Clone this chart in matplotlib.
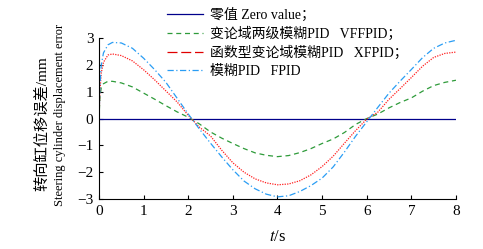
import numpy as np
import matplotlib
matplotlib.use("Agg")
import matplotlib.pyplot as plt

plt.rcParams['font.family'] = ['Liberation Serif', 'Noto Sans CJK SC']
plt.rcParams['mathtext.fontset'] = 'stix'
plt.rcParams['axes.unicode_minus'] = True

# time axis (s)
t = [0, 0.02, 0.05, 0.1, 0.2, 0.3, 0.5, 0.75, 1.0, 1.25, 1.5, 1.75, 2.0,
     2.25, 2.5, 2.75, 3.0, 3.25, 3.5, 3.75, 4.0, 4.25, 4.5, 4.75, 5.0,
     5.25, 5.5, 5.75, 6.0, 6.25, 6.5, 6.75, 7.0, 7.25, 7.5, 7.75, 8.0]

zero = [0] * len(t)
vffpid = [0, 0.8, 1.15, 1.3, 1.39, 1.39, 1.33, 1.18, 0.95, 0.72, 0.48, 0.25, 0.05,
          -0.2, -0.5, -0.73, -0.93, -1.12, -1.28, -1.37, -1.42, -1.38, -1.27, -1.12, -0.93,
          -0.76, -0.52, -0.22, 0.0, 0.17, 0.4, 0.6, 0.77, 1.02, 1.23, 1.35, 1.43]
xfpid = [0, 1.0, 1.7, 2.1, 2.37, 2.41, 2.35, 2.15, 1.82, 1.44, 1.03, 0.62, 0.12,
         -0.32, -0.65, -1.18, -1.65, -2.0, -2.25, -2.40, -2.47, -2.44, -2.32, -2.1, -1.79,
         -1.40, -0.92, -0.45, -0.02, 0.24, 0.72, 1.12, 1.53, 1.95, 2.28, 2.43, 2.48]
fpid = [0, 1.2, 2.0, 2.45, 2.75, 2.84, 2.82, 2.62, 2.25, 1.82, 1.35, 0.76, 0.17,
        -0.39, -0.92, -1.43, -1.91, -2.33, -2.62, -2.82, -2.92, -2.88, -2.72, -2.5, -2.22,
        -1.8, -1.25, -0.66, -0.12, 0.42, 0.95, 1.40, 1.83, 2.27, 2.62, 2.82, 2.92]

labels = ["零值 Zero value；",
          "变论域两级模糊PID   VFFPID；",
          "函数型变论域模糊PID   XFPID；",
          "模糊PID   FPID"]

fig = plt.figure(figsize=(4.83, 2.49), dpi=100)
ax = fig.add_axes([0.205, 0.2008, 0.739, 0.646])

l0, = ax.plot(t, zero, color='#00008b', lw=0.9)
l1, = ax.plot(t, vffpid, color='#2e9b3a', lw=0.9, ls=(0, (4, 3)))
l2, = ax.plot(t, xfpid, color='#ff2020', lw=0.9, ls=(0, (1, 1)))
l3, = ax.plot(t, fpid, color='#2a9df4', lw=0.9, ls=(0, (5, 2, 1, 2)))

# legend handle for XFPID is drawn as long dashes in the reference
h2 = plt.Line2D([], [], color='#e00000', lw=0.9, ls=(0, (8, 3)))

ax.set_xlim(0, 8)
ax.set_ylim(-3, 3)
ax.set_xticks(range(0, 9))
ax.set_yticks(range(-3, 4))
ax.spines['top'].set_visible(False)
ax.spines['right'].set_visible(False)
ax.tick_params(direction='in', length=3, width=0.8, labelsize=11, pad=4)

ax.set_xlabel("$t$/s", fontsize=12, labelpad=8)

fig.text(0.088, 0.505, "转向缸位移误差/mm", rotation=90, ha='center', va='center',
         fontsize=11)
fig.text(0.124, 0.54, "Steering cylinder displacement error", rotation=90,
         ha='center', va='center', fontsize=9)

leg = fig.legend([l0, l1, h2, l3], labels, loc='upper left',
                 bbox_to_anchor=(0.342, 0.975), frameon=False, fontsize=10,
                 handlelength=2.6, handletextpad=0.5, labelspacing=0.35,
                 borderaxespad=0.0, borderpad=0.1)

fig.savefig("out.png", dpi=100)
